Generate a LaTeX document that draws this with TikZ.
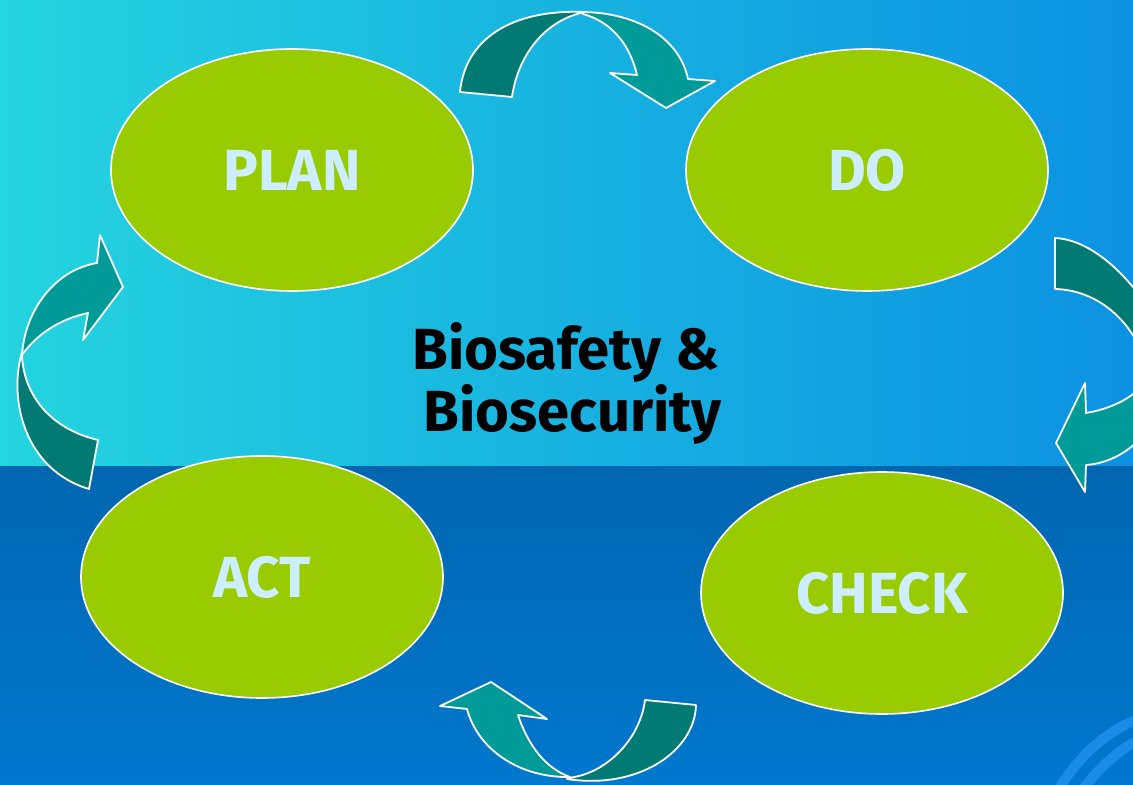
\documentclass[tikz,border=0pt]{standalone}
\usepackage{fontspec}
\setmainfont{Fira Sans}
\usetikzlibrary{shapes.geometric}
\definecolor{skyA}{HTML}{24D4DF}
\definecolor{skyB}{HTML}{0B92E2}
\definecolor{seaA}{HTML}{0066B0}
\definecolor{seaB}{HTML}{0078CE}
\definecolor{lime}{HTML}{99CC00}
\definecolor{labelblue}{HTML}{CCEEFF}
\definecolor{tealdark}{HTML}{007A73}
\definecolor{teallight}{HTML}{009B99}
\definecolor{ringblue}{HTML}{1A8CE6}
\begin{document}
\begin{tikzpicture}
            [x=0.5pt,y=-0.5pt,
             main/.style ={draw=white,line width=0.8pt,fill=lime,ellipse,
                           minimum width=181pt,minimum height=121pt,inner sep=0pt,
                           text=labelblue,font=\fontsize{29}{32}\selectfont\bfseries},
             swoop/.style ={draw=white,line width=0.9pt,line join=round}]
            \useasboundingbox (0,0) rectangle (1133,785);
            \clip (0,0) rectangle (1133,785);
            % background
            \shade[left color=skyA,right color=skyB] (0,0) rectangle (1133,466);
            \shade[top color=seaA,bottom color=seaB] (0,466) rectangle (1133,785);
            \draw[ringblue,line width=5pt] (1058,790) .. controls (1080,755) and (1105,732) .. (1140,718);
            \draw[ringblue,line width=5pt] (1082,790) .. controls (1098,770) and (1115,752) .. (1140,739);
            % cycle
            \node[main] (plan) at (292,170) {PLAN};
            \node[main] (do) at (867,170) {DO};
            \node[main] (check) at (882,593) {CHECK};
            \node[main] (act) at (262,577) {ACT};
            \node[font=\fontsize{29}{31}\selectfont\bfseries,align=center] (core) at (566,383)
                {Biosafety \&\\\ Biosecurity};
            % curved arrows
            \filldraw[swoop,fill=teallight] (583,12) .. controls (640,13) and (680,40) .. (688,79)
                -- (715,81) -- (666,108) -- (610,73) -- (637,75) .. controls (630,45) and (612,22) .. (583,14) -- cycle;
            \filldraw[swoop,fill=tealdark] (460,92) .. controls (465,40) and (510,9) .. (585,12)
                .. controls (545,20) and (518,55) .. (512,97) -- cycle;
            \filldraw[swoop,fill=tealdark] (1055,238) .. controls (1100,240) and (1150,295) .. (1175,360)
                -- (1150,380) .. controls (1140,325) and (1100,290) .. (1055,289) -- cycle;
            \filldraw[swoop,fill=teallight] (1056,443) -- (1085,383) -- (1086,413) .. controls (1115,408) and (1140,395) .. (1155,370)
                -- (1175,350) .. controls (1172,420) and (1130,462) .. (1086,465) -- (1085,492) -- cycle;
            \filldraw[swoop,fill=teallight] (491,682) -- (547,719) -- (518,715) .. controls (528,745) and (545,768) .. (570,777)
                .. controls (520,778) and (478,750) .. (467,709) -- (440,706) -- cycle;
            \filldraw[swoop,fill=tealdark] (567,779) .. controls (640,790) and (695,750) .. (696,705)
                -- (645,700) .. controls (640,740) and (605,775) .. (567,778) -- cycle;
            \filldraw[swoop,fill=tealdark] (22,352) .. controls (8,400) and (25,470) .. (89,489)
                -- (98,440) .. controls (55,430) and (25,400) .. (22,357) -- cycle;
            \filldraw[swoop,fill=teallight] (123,287) -- (100,235) -- (97,263) .. controls (55,270) and (25,310) .. (22,355)
                .. controls (40,330) and (65,318) .. (88,313) -- (83,340) -- cycle;
        \end{tikzpicture}
\end{document}
